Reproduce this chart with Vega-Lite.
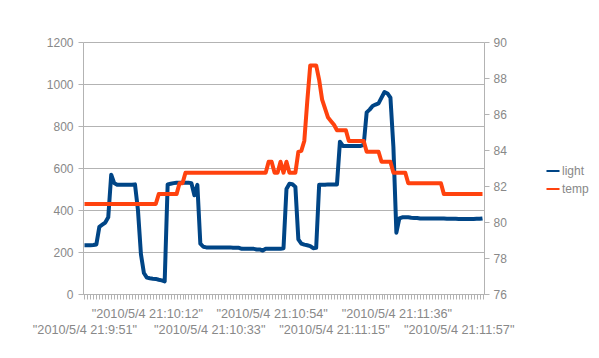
{
  "$schema": "https://vega.github.io/schema/vega-lite/v6.json",
  "width": 401,
  "height": 252,
  "autosize": {"type": "none"},
  "padding": {"left": 83, "top": 42, "right": 115, "bottom": 64},
  "background": "white",
  "config": {
    "view": {"stroke": null},
    "font": "Liberation Sans",
    "axis": {
      "domainColor": "#b3b3b3",
      "tickColor": "#b3b3b3",
      "gridColor": "#b3b3b3",
      "labelColor": "#888888",
      "labelFont": "Liberation Sans",
      "labelFontSize": 12,
      "tickSize": 5,
      "domainWidth": 1,
      "tickWidth": 1,
      "gridWidth": 1,
      "title": null
    },
    "legend": {"labelFont": "Liberation Sans"}
  },
  "data": {
    "values": [
      {"i": 0, "light": 232, "temp": 81.0},
      {"i": 1, "light": 232, "temp": 81.0},
      {"i": 2, "light": 232, "temp": 81.0},
      {"i": 3, "light": 233, "temp": 81.0},
      {"i": 4, "light": 236, "temp": 81.0},
      {"i": 5, "light": 320, "temp": 81.0},
      {"i": 6, "light": 330, "temp": 81.0},
      {"i": 7, "light": 340, "temp": 81.0},
      {"i": 8, "light": 365, "temp": 81.0},
      {"i": 9, "light": 568, "temp": 81.0},
      {"i": 10, "light": 528, "temp": 81.0},
      {"i": 11, "light": 520, "temp": 81.0},
      {"i": 12, "light": 520, "temp": 81.0},
      {"i": 13, "light": 520, "temp": 81.0},
      {"i": 14, "light": 520, "temp": 81.0},
      {"i": 15, "light": 520, "temp": 81.0},
      {"i": 16, "light": 520, "temp": 81.0},
      {"i": 17, "light": 522, "temp": 81.0},
      {"i": 18, "light": 400, "temp": 81.0},
      {"i": 19, "light": 190, "temp": 81.0},
      {"i": 20, "light": 100, "temp": 81.0},
      {"i": 21, "light": 78, "temp": 81.0},
      {"i": 22, "light": 75, "temp": 81.0},
      {"i": 23, "light": 73, "temp": 81.0},
      {"i": 24, "light": 72, "temp": 81.0},
      {"i": 25, "light": 68, "temp": 81.55},
      {"i": 26, "light": 65, "temp": 81.55},
      {"i": 27, "light": 60, "temp": 81.55},
      {"i": 28, "light": 522, "temp": 81.55},
      {"i": 29, "light": 525, "temp": 81.55},
      {"i": 30, "light": 528, "temp": 81.55},
      {"i": 31, "light": 530, "temp": 81.55},
      {"i": 32, "light": 530, "temp": 82.15},
      {"i": 33, "light": 530, "temp": 82.15},
      {"i": 34, "light": 530, "temp": 82.74},
      {"i": 35, "light": 530, "temp": 82.74},
      {"i": 36, "light": 528, "temp": 82.74},
      {"i": 37, "light": 470, "temp": 82.74},
      {"i": 38, "light": 520, "temp": 82.74},
      {"i": 39, "light": 240, "temp": 82.74},
      {"i": 40, "light": 225, "temp": 82.74},
      {"i": 41, "light": 222, "temp": 82.74},
      {"i": 42, "light": 222, "temp": 82.74},
      {"i": 43, "light": 222, "temp": 82.74},
      {"i": 44, "light": 222, "temp": 82.74},
      {"i": 45, "light": 222, "temp": 82.74},
      {"i": 46, "light": 222, "temp": 82.74},
      {"i": 47, "light": 222, "temp": 82.74},
      {"i": 48, "light": 222, "temp": 82.74},
      {"i": 49, "light": 222, "temp": 82.74},
      {"i": 50, "light": 220, "temp": 82.74},
      {"i": 51, "light": 220, "temp": 82.74},
      {"i": 52, "light": 220, "temp": 82.74},
      {"i": 53, "light": 215, "temp": 82.74},
      {"i": 54, "light": 215, "temp": 82.74},
      {"i": 55, "light": 215, "temp": 82.74},
      {"i": 56, "light": 215, "temp": 82.74},
      {"i": 57, "light": 215, "temp": 82.74},
      {"i": 58, "light": 212, "temp": 82.74},
      {"i": 59, "light": 212, "temp": 82.74},
      {"i": 60, "light": 207, "temp": 82.74},
      {"i": 61, "light": 215, "temp": 82.74},
      {"i": 62, "light": 215, "temp": 83.35},
      {"i": 63, "light": 215, "temp": 83.35},
      {"i": 64, "light": 215, "temp": 82.74},
      {"i": 65, "light": 215, "temp": 82.74},
      {"i": 66, "light": 215, "temp": 83.35},
      {"i": 67, "light": 218, "temp": 82.74},
      {"i": 68, "light": 500, "temp": 83.35},
      {"i": 69, "light": 525, "temp": 82.74},
      {"i": 70, "light": 523, "temp": 82.74},
      {"i": 71, "light": 510, "temp": 82.74},
      {"i": 72, "light": 260, "temp": 83.9},
      {"i": 73, "light": 240, "temp": 83.95},
      {"i": 74, "light": 235, "temp": 84.5},
      {"i": 75, "light": 232, "temp": 86.7},
      {"i": 76, "light": 228, "temp": 88.7},
      {"i": 77, "light": 218, "temp": 88.7},
      {"i": 78, "light": 220, "temp": 88.7},
      {"i": 79, "light": 520, "temp": 87.9},
      {"i": 80, "light": 520, "temp": 86.8},
      {"i": 81, "light": 520, "temp": 86.3},
      {"i": 82, "light": 522, "temp": 85.8},
      {"i": 83, "light": 522, "temp": 85.6},
      {"i": 84, "light": 522, "temp": 85.4},
      {"i": 85, "light": 522, "temp": 85.1},
      {"i": 86, "light": 725, "temp": 85.1},
      {"i": 87, "light": 705, "temp": 85.1},
      {"i": 88, "light": 705, "temp": 85.1},
      {"i": 89, "light": 705, "temp": 84.5},
      {"i": 90, "light": 705, "temp": 84.5},
      {"i": 91, "light": 705, "temp": 84.5},
      {"i": 92, "light": 705, "temp": 84.5},
      {"i": 93, "light": 705, "temp": 84.5},
      {"i": 94, "light": 710, "temp": 84.5},
      {"i": 95, "light": 865, "temp": 83.9},
      {"i": 96, "light": 878, "temp": 83.9},
      {"i": 97, "light": 895, "temp": 83.9},
      {"i": 98, "light": 902, "temp": 83.9},
      {"i": 99, "light": 908, "temp": 83.9},
      {"i": 100, "light": 935, "temp": 83.35},
      {"i": 101, "light": 962, "temp": 83.35},
      {"i": 102, "light": 955, "temp": 83.35},
      {"i": 103, "light": 935, "temp": 83.35},
      {"i": 104, "light": 700, "temp": 82.74},
      {"i": 105, "light": 292, "temp": 82.74},
      {"i": 106, "light": 360, "temp": 82.74},
      {"i": 107, "light": 365, "temp": 82.74},
      {"i": 108, "light": 365, "temp": 82.74},
      {"i": 109, "light": 365, "temp": 82.15},
      {"i": 110, "light": 363, "temp": 82.15},
      {"i": 111, "light": 362, "temp": 82.15},
      {"i": 112, "light": 362, "temp": 82.15},
      {"i": 113, "light": 360, "temp": 82.15},
      {"i": 114, "light": 360, "temp": 82.15},
      {"i": 115, "light": 360, "temp": 82.15},
      {"i": 116, "light": 360, "temp": 82.15},
      {"i": 117, "light": 360, "temp": 82.15},
      {"i": 118, "light": 360, "temp": 82.15},
      {"i": 119, "light": 359, "temp": 82.15},
      {"i": 120, "light": 359, "temp": 82.15},
      {"i": 121, "light": 359, "temp": 81.55},
      {"i": 122, "light": 358, "temp": 81.55},
      {"i": 123, "light": 358, "temp": 81.55},
      {"i": 124, "light": 358, "temp": 81.55},
      {"i": 125, "light": 358, "temp": 81.55},
      {"i": 126, "light": 357, "temp": 81.55},
      {"i": 127, "light": 357, "temp": 81.55},
      {"i": 128, "light": 357, "temp": 81.55},
      {"i": 129, "light": 357, "temp": 81.55},
      {"i": 130, "light": 357, "temp": 81.55},
      {"i": 131, "light": 357, "temp": 81.55},
      {"i": 132, "light": 358, "temp": 81.55},
      {"i": 133, "light": 358, "temp": 81.55},
      {"i": 134, "light": 360, "temp": 81.55}
    ]
  },
  "encoding": {
    "x": {
      "field": "i",
      "type": "quantitative",
      "scale": {"domain": [-0.5, 134.5], "nice": false, "zero": false},
      "axis": {
        "tickCount": 135,
        "grid": false,
        "labelOverlap": false,
        "labelBound": false,
        "labelFlush": false,
        "labelPadding": 8,
        "labelFontSize": 12.7,
        "labelBaseline": "top",
        "labelLineHeight": 16,
        "labelExpr": "datum.value % 21 != 0 ? '' : (datum.value % 42 == 0 ? [' ', '\"2010/5/4 21:' + (9 + floor((51 + datum.value) / 60)) + ':' + ((51 + datum.value) % 60) + '\"'] : ['\"2010/5/4 21:' + (9 + floor((51 + datum.value) / 60)) + ':' + ((51 + datum.value) % 60) + '\"'])"
      }
    }
  },
  "layer": [
    {
      "mark": {"type": "line", "strokeWidth": 4, "strokeJoin": "round", "strokeCap": "butt"},
      "encoding": {
        "y": {
          "field": "light",
          "type": "quantitative",
          "scale": {"domain": [0, 1200], "nice": false},
          "axis": {"orient": "left", "values": [0, 200, 400, 600, 800, 1000, 1200], "format": "d", "grid": true, "labelPadding": 5}
        },
        "color": {
          "datum": "light",
          "type": "nominal",
          "scale": {"domain": ["light", "temp"], "range": ["#004586", "#ff420e"]},
          "legend": {
            "title": null,
            "orient": "none",
            "legendX": 462,
            "legendY": 121,
            "symbolType": "stroke",
            "symbolSize": 170,
            "symbolStrokeWidth": 2,
            "labelFontSize": 12,
            "labelColor": "#888888",
            "labelOffset": 1,
            "rowPadding": 4
          }
        }
      }
    },
    {
      "mark": {"type": "line", "strokeWidth": 4, "strokeJoin": "round", "strokeCap": "butt"},
      "encoding": {
        "y": {
          "field": "temp",
          "type": "quantitative",
          "scale": {"domain": [76, 90], "nice": false, "zero": false},
          "axis": {"orient": "right", "values": [76, 78, 80, 82, 84, 86, 88, 90], "grid": false, "labelPadding": 4}
        },
        "color": {"datum": "temp", "type": "nominal"}
      }
    }
  ],
  "resolve": {"scale": {"y": "independent"}}
}
